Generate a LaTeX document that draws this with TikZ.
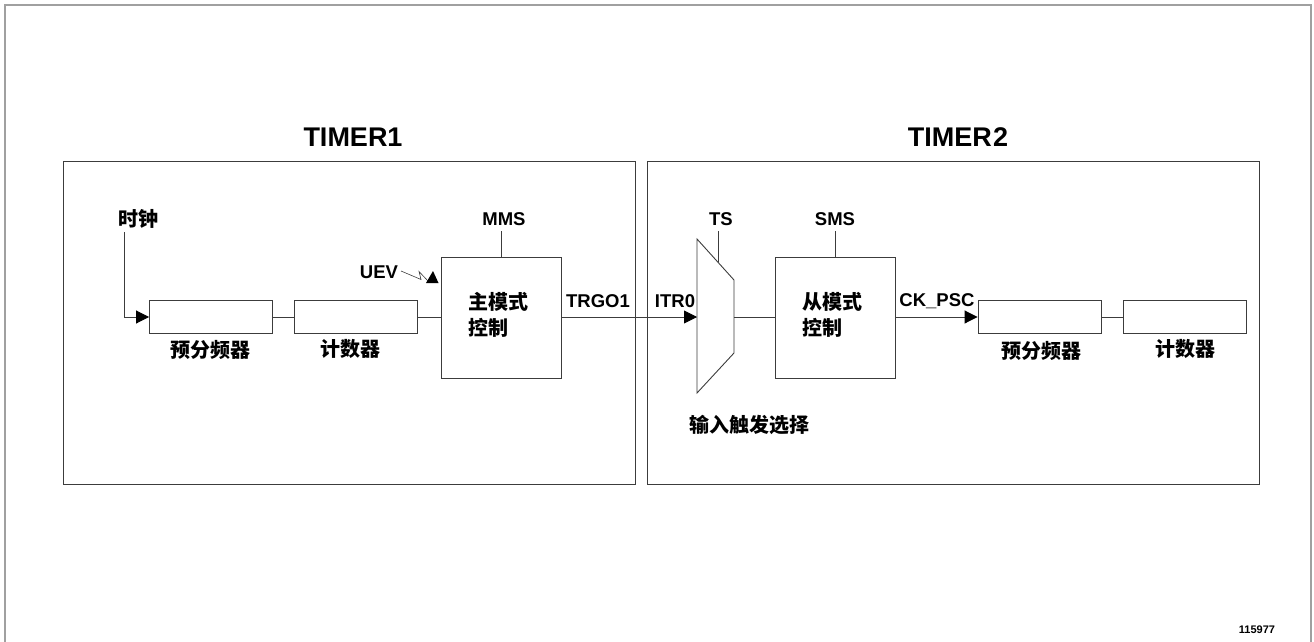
\documentclass[tikz,border=0pt]{standalone}
\usepackage{fontspec}
\setmainfont{Liberation Sans}
\newfontfamily\cjk{Noto Sans CJK SC}
\usetikzlibrary{arrows.meta}
\definecolor{linec}{RGB}{60,60,60}
\definecolor{framec}{RGB}{160,160,160}
\tikzset{
  blk/.style={draw=linec, line width=0.9pt, minimum width=123pt, minimum height=33pt, inner sep=0pt},
  ctl/.style={draw=linec, line width=0.9pt, minimum width=120pt, minimum height=121pt, inner sep=0pt},
  grp/.style={draw=linec, line width=0.9pt},
  wire/.style={draw=linec, line width=0.9pt},
  arr/.style={wire, -{Triangle[length=13pt,width=13pt,color=black]}},
  lbl/.style={inner sep=0pt, font=\bfseries\fontsize{18.5}{18.5}\selectfont},
  ttl/.style={inner sep=0pt, font=\bfseries\fontsize{27}{27}\selectfont},
  zh/.style={inner sep=0pt, font=\cjk\bfseries\fontsize{20}{26}\selectfont},
}
\begin{document}
\begin{tikzpicture}[x=1pt,y=-1pt]
\useasboundingbox (0,0) rectangle (1314,642);
% outer frame (cut at bottom)
\draw[framec, line width=2pt] (5,660) -- (5,5) -- (1311,5) -- (1311,660);
% timer group boxes
\draw[grp] (63,161) rectangle (635,484);
\draw[grp] (647,161) rectangle (1259,484);
\node[ttl] (t1) at (353,137) {TIMER1};
\node[ttl] (t2) at (958,137) {TIMER\kern1.5pt2};
% TIMER1 blocks
\node[blk] (psc1) at (211,317) {};
\node[blk] (cnt1) at (355.5,317) {};
\node[ctl] (mm) at (501.5,317.5) {};
\node[zh, anchor=west, align=left] (mmt) at (468,315) {主模式\\控制};
\node[zh] (clk) at (138,219) {时钟};
\node[zh] (psc1t) at (210,350) {预分频器};
\node[zh] (cnt1t) at (350,349) {计数器};
\node[lbl] (mms) at (504,219) {MMS};
\node[lbl] (uev) at (379,272) {UEV};
\node[lbl] (trgo) at (598,301) {TRGO1};
\coordinate (clkc) at (124.5,232);
% TIMER2 blocks
\coordinate (muxa) at (697,239);
\coordinate (muxb) at (734,280);
\coordinate (muxc) at (734,353);
\coordinate (muxd) at (697,393);
\coordinate (muxin) at (697,317);
\coordinate (muxout) at (734,317);
\draw[wire] (muxa) -- (muxb) -- (muxc) -- (muxd) -- cycle;
\node[ctl] (sm) at (835,317.5) {};
\node[zh, anchor=west, align=left] (smt) at (802,315) {从模式\\控制};
\node[blk] (psc2) at (1039.5,317) {};
\node[blk] (cnt2) at (1184.5,317) {};
\node[zh] (psc2t) at (1041,351) {预分频器};
\node[zh] (cnt2t) at (1185,349) {计数器};
\node[zh] (its) at (749,425) {输入触发选择};
\node[lbl] (itr) at (675,301) {ITR0};
\node[lbl] (ts) at (721,219) {TS};
\node[lbl] (sms) at (835,219) {SMS};
\node[lbl] (ckpsc) at (937,301) {CK\_PSC};
\node[inner sep=0pt, font=\bfseries\fontsize{11}{11}\selectfont] (code) at (1257,630) {115977};
% connectors TIMER1
\draw[arr] (clkc) |- (psc1.west);
\draw[wire] (psc1.east) -- (cnt1.west);
\draw[wire] (cnt1.east) -- (cnt1.east -| mm.west);
\draw[wire] (mm.north) -- ++(0,-26);
\draw[arr] (mm.east |- muxin) -- (muxin);
% UEV lightning
\coordinate (u1) at (401,271);
\coordinate (u2) at (421,279.5);
\coordinate (u3) at (419,271.5);
\coordinate (u4) at (428,281);
\draw[wire, line width=0.6pt] (u1) -- (u2) -- (u3) -- (u4);
\fill[black] (426,283) -- (438.5,283) -- (433,271) -- cycle;
% connectors TIMER2
\coordinate (tsl) at (718,231);
\draw[wire] (tsl) -- (718,262);
\draw[wire] (muxout) -- (muxout -| sm.west);
\draw[wire] (sm.north) -- ++(0,-26);
\draw[arr] (sm.east |- psc2.west) -- (psc2.west);
\draw[wire] (psc2.east) -- (cnt2.west);
\end{tikzpicture}
\end{document}
